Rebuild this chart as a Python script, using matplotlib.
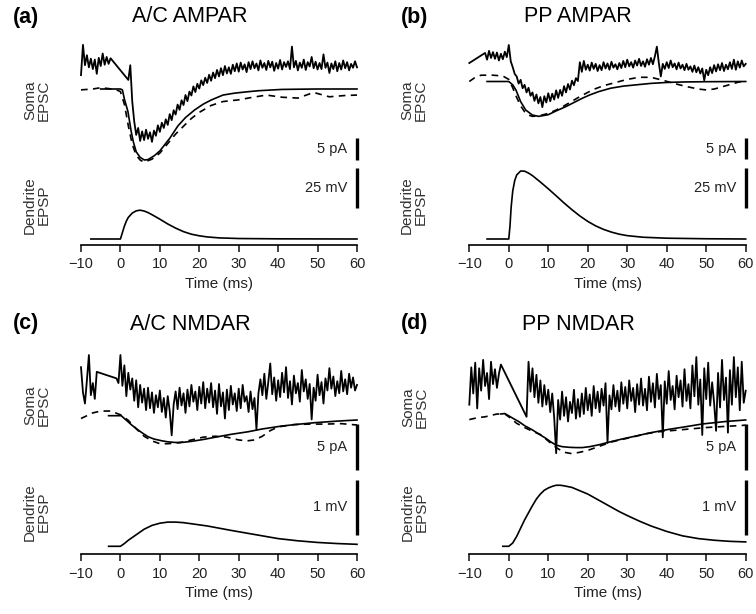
import numpy as np
import matplotlib.pyplot as plt

plt.rcParams['font.family'] = ['Liberation Sans', 'DejaVu Sans']

W, H = 756, 614

# ---- values ----
# soma traces in pA (fit baseline = 0), dendrite traces in mV (rest = 0), time in ms
# recorded soma EPSC is split in two pieces; the gap is bridged by a straight line

# (a) A/C AMPAR
a_rec_pre_span = (-10.0, -2.5)
a_rec_pre = [3.2, 10.2, 5.5, 7.8, 5.0, 7.0, 4.6, 6.8, 3.5, 7.2, 5.3, 8.2, 5.6, 7.4, 5.8, 7.1]
a_rec_post_span = (2.0, 60.0)
a_rec_post = [2.1, 5.5, -2.9, -7.5, -10.6, -9.0, -12.0, -9.8, -11.8, -9.4, -11.5, -10.0, -12.2, -9.6, -10.8, -8.4,
              -9.9, -7.8, -9.0, -7.0, -8.3, -5.8, -7.2, -4.9, -5.9, -3.6, -4.8, -2.6, -3.7, -1.4, -2.8, -0.6,
              -1.5, 0.6, -0.7, 1.2, 0.1, 2.0, 0.9, 2.6, 1.4, 3.3, 1.9, 3.8, 2.5, 4.4, 2.9, 4.8,
              3.2, 5.3, 3.6, 5.0, 3.5, 5.6, 4.1, 5.9, 4.0, 6.1, 4.5, 5.7, 3.9, 6.2, 4.6, 6.4,
              4.8, 5.9, 4.3, 6.6, 4.9, 6.0, 4.4, 6.5, 5.0, 6.3, 4.2, 6.0, 4.7, 6.7, 4.5, 6.2,
              5.1, 6.4, 4.6, 9.8, 5.0, 6.5, 4.3, 6.1, 4.9, 6.8, 4.4, 6.2, 5.2, 7.4, 4.8, 6.3,
              4.5, 6.0, 4.6, 8.0, 4.9, 6.1, 3.7, 5.9, 4.6, 6.4, 4.1, 6.0, 4.5, 6.6, 4.8, 6.2,
              4.3, 5.8, 4.9, 6.4, 5.0]
a_fit_t = [-5, 0, 0.5, 1, 1.9, 2.75, 3.3, 4, 5, 6.1, 7, 8.6, 10, 11.2, 12.5, 14.6, 16.5, 18.8, 21, 23,
           26, 29, 32.4, 35, 40.9, 45, 50, 60]
a_fit = [0, 0, -0.2, -2.3, -5.2, -9.9, -12.3, -14.5, -15.8, -16.4, -16.3, -15.4, -14.3, -12.9, -11.4, -8.5,
         -6.6, -4.85, -3.5, -2.55, -1.4, -0.95, -0.62, -0.4, -0.1, -0.05, 0, 0]
a_alt_t = [-10, -7, -5, -3, -1, 0, 1, 2, 3, 4, 5, 6, 8, 10, 12, 14, 16, 18, 20, 23, 26, 30, 33, 37, 41,
           45, 49, 53, 57, 60]
a_alt = [-0.2, 0, 0.3, 0.1, -0.2, -0.6, -3.5, -8.5, -12.8, -15.3, -16.4, -16.9, -16.2, -14.8, -12.6, -10.4,
         -8.6, -6.8, -5.4, -3.8, -2.9, -2.5, -2.0, -1.4, -1.9, -2.1, -0.8, -1.8, -1.5, -1.4]
a_epsp_t = [-7.5, 0, 0.5, 1, 1.5, 2, 3, 4, 5, 6, 7, 8, 10, 12, 14, 16, 18, 20, 22, 25, 30, 40, 60]
a_epsp = [0, 0, 4.0, 8.0, 11.2, 13.5, 16.2, 17.6, 18.0, 17.5, 16.5, 15.2, 12.4, 9.4, 6.8, 4.6, 3.0, 2.0,
          1.3, 0.7, 0.3, 0.1, 0]

# (b) PP AMPAR
b_rec_pre_span = (-10.0, -10.0)
b_rec_pre = [4.4]
b_rec_post_span = (-6.0, 60.0)
b_rec_post = [6.8, 5.2, 7.3, 5.6, 7.0, 5.4, 6.9, 5.0, 6.6, 5.3, 7.1, 5.8, 8.7, 4.8, 3.4, 1.8,
              1.2, -0.5, 0.4, -1.6, -0.8, -2.6, -1.5, -3.4, -2.6, -4.6, -3.1, -5.2, -3.7, -6.1, -3.5, -5.0,
              -2.8, -4.7, -2.9, -4.3, -2.1, -3.9, -2.0, -3.4, -1.1, -2.6, -0.6, -1.9, 0.2, -0.9, 0.8, 0.1,
              4.6, 2.3, 4.9, 2.8, 4.0, 2.6, 4.5, 3.0, 4.2, 2.5, 3.9, 2.7, 4.6, 3.1, 4.3, 2.8,
              4.7, 3.3, 4.1, 2.9, 4.4, 3.2, 4.9, 3.4, 5.2, 3.6, 4.6, 3.3, 5.0, 3.8, 5.4, 3.7,
              4.8, 3.5, 5.3, 4.0, 5.6, 4.1, 6.0, 8.3, 4.4, 1.2, 4.2, 3.0, 4.6, 3.2, 5.0, 3.4,
              4.3, 2.9, 4.5, 3.1, 4.0, 2.7, 4.2, 2.8, 3.6, 2.3, 3.8, 2.2, 3.4, 1.9, 3.1, 0.3,
              2.8, 1.5, 3.4, 2.0, 3.9, 2.4, 4.1, 2.7, 4.4, 2.5, 4.0, 2.9, 4.6, 3.0, 5.2, 2.8,
              4.8, 3.3, 5.0, 3.6, 4.2]
b_fit_t = [-5.5, 0, 1, 1.8, 3, 4.3, 6, 7.6, 10, 12, 14.4, 16.5, 18.6, 20.5, 22.8, 25.8, 29, 32.2, 36,
           40.6, 45, 50, 60]
b_fit = [0, 0, -0.8, -2.0, -4.8, -6.8, -8.0, -8.3, -7.9, -7.0, -6.0, -5.0, -4.0, -3.2, -2.4, -1.6, -1.1,
         -0.8, -0.45, -0.2, -0.1, -0.05, 0]
b_alt_t = [-10, -8.5, -7, -4, -1.5, 0, 1, 2, 3, 4, 5, 6, 8, 10, 12, 14, 16, 18, 20, 22, 24, 26, 28, 30,
           33, 36, 39, 42, 45, 48, 50, 52, 55, 58, 60]
b_alt = [0, 1.0, 1.5, 1.5, 1.3, 0.5, -1.5, -3.8, -5.8, -7.2, -8.0, -8.3, -8.1, -7.6, -6.8, -5.8, -4.7,
         -3.6, -2.6, -1.7, -1.0, -0.5, 0, 0.5, 1.0, 1.0, 0.3, -0.5, -1.2, -1.8, -2.0, -1.8, -1.0, -0.2, 0.2]
b_epsp_t = [-5.5, 0, 0.3, 0.6, 1, 1.5, 2, 3, 4, 5, 6, 8, 10, 12, 14, 16, 18, 20, 22, 24, 26, 28, 30, 34,
            40, 50, 60]
b_epsp = [0, 0, 8, 20, 30, 36.5, 40, 42.5, 42.4, 41.2, 39.6, 35.6, 31.4, 27, 22.5, 18.3, 14.4, 11.0, 8.2,
          6.0, 4.3, 3.0, 2.1, 1.1, 0.5, 0.15, 0]

# (c) A/C NMDAR
c_rec_pre_span = (-10.0, -6.0)
c_rec_pre = [5.2, 2.5, 1.3, 3.8, 6.5, 2.2, 3.5, 1.8, 4.7]
c_rec_post_span = (-1.0, 60.0)
c_rec_post = [4.0, 3.5, 6.5, 3.2, 5.4, 2.1, 4.6, 2.8, 4.0, 1.6, 3.8, 0.9, 3.3, 1.4, 2.9, 0.6,
              3.0, 0.8, 2.5, 0.3, 2.2, 0.9, 2.7, 0.4, 1.9, -0.2, 2.1, 0.5, -2.1, 1.2, 2.6, 0.7,
              3.0, 1.1, 2.4, 0.3, 2.8, 1.0, 3.3, 1.5, 2.6, 0.6, 3.1, 1.3, 3.6, 0.8, 2.9, 1.4,
              3.5, 0.9, 2.7, 0.2, 3.4, 1.0, 2.5, -0.3, 2.8, 0.6, 3.2, 1.2, 2.4, 0.5, 2.9, 0.8,
              3.3, 1.5, 2.1, 0.4, 2.6, 0.7, 1.9, -1.5, 2.4, 3.9, 2.2, 4.5, 1.8, 3.6, 5.6, 2.3,
              4.1, 1.6, 3.8, 2.0, 4.6, 2.5, 5.2, 1.9, 3.7, 1.2, 4.3, 2.4, 3.5, 1.5, 4.9, 2.6,
              3.9, 1.8, 3.4, -0.4, 3.0, 1.6, 4.4, 2.2, 3.6, 1.3, 4.0, 2.7, 5.1, 2.9, 4.2, 2.1,
              3.7, 2.4, 4.8, 2.6, 3.9, 2.3, 4.5, 3.0, 4.1, 2.7, 3.3]
c_fit_t = [-3, 0.2, 1.9, 3, 4.5, 6, 7, 8.5, 10.4, 12, 14, 16, 18, 21, 24, 28, 32.4, 36, 40.9, 45, 49.3,
           55, 60]
c_fit = [0, 0, -0.64, -1.05, -1.54, -1.98, -2.25, -2.5, -2.68, -2.8, -2.87, -2.85, -2.75, -2.55, -2.31,
         -2.0, -1.72, -1.42, -1.11, -0.92, -0.75, -0.58, -0.46]
c_alt_t = [-10, -7, -5, -2.5, 0, 2, 4, 6, 8, 10, 12, 15, 18, 21, 24, 27, 30, 32, 34, 36, 38, 40, 44, 48,
           52, 56, 60]
c_alt = [-0.3, 0.3, 0.5, 0.5, 0.1, -0.5, -1.4, -2.2, -2.7, -3.0, -3.0, -2.9, -2.6, -2.3, -2.2, -2.3, -2.6,
         -2.7, -2.6, -2.2, -1.6, -1.2, -0.95, -0.9, -0.9, -0.85, -1.0]
c_epsp_t = [-3, 0, 1, 2, 3, 4, 6, 8, 10, 12, 14, 16, 18, 20, 22, 25, 28, 32, 36, 40, 45, 50, 55, 60]
c_epsp = [0, 0, 0.05, 0.11, 0.16, 0.21, 0.31, 0.38, 0.42, 0.44, 0.44, 0.43, 0.41, 0.39, 0.37, 0.33, 0.29,
          0.24, 0.19, 0.14, 0.10, 0.07, 0.05, 0.036]

# (d) PP NMDAR
d_rec_pre_span = (-10.0, -2.0)
d_rec_pre = [1.0, 5.0, 2.2, 5.5, 0.6, 4.9, 2.5, 5.8, 3.0, 4.4, 1.6, 5.6, 3.2, 4.8, 2.8, 4.3, 5.3]
d_rec_post_span = (4.5, 60.0)
d_rec_post = [-0.3, 5.6, 2.4, 4.9, 1.8, 4.2, 1.2, 3.6, 0.8, 3.1, 1.0, 2.6, 0.2, 2.2, -0.4, -4.2,
              1.5, -0.6, 2.4, -0.2, 1.8, -0.8, 1.3, 0.1, 2.6, -0.5, 1.6, -0.3, 2.2, 0.0, 2.8, 0.4,
              2.1, -0.2, 3.0, 0.6, 2.4, 0.2, 2.7, 0.9, 3.3, -3.1, 2.0, 0.5, 3.1, 0.8, 2.5, 0.3,
              3.4, 1.1, 2.9, 0.6, 3.6, 1.4, 2.8, 0.2, 3.2, 1.0, 3.8, 0.9, 2.7, 0.4, 4.0, 1.3,
              3.3, 0.7, 4.3, 1.6, 3.1, -2.5, 3.5, 1.1, 4.6, 1.5, 3.0, 0.5, 4.1, 1.8, 3.6, 0.8,
              4.8, 1.4, 3.2, 0.6, 5.2, 1.9, 6.1, 1.0, 3.7, -2.25, 4.9, 1.6, 5.5, 0.9, 3.4, 1.2,
              -1.8, 4.4, 0.7, 5.8, 1.5, 3.9, -2.0, 4.7, 1.0, 6.1, 1.8, 5.0, 0.4, 5.6, 1.2, 2.5]
d_fit_t = [-2, -1, 0, 1, 2.6, 4, 6, 8, 9.4, 10.5, 11.9, 13.5, 15.3, 17, 18.6, 20.5, 22.8, 26, 29, 32.2,
           36, 40.6, 45, 49, 55, 60]
d_fit = [0, 0.05, -0.2, -0.45, -0.83, -1.25, -1.71, -2.25, -2.61, -2.95, -3.32, -3.5, -3.57, -3.6, -3.6,
         -3.5, -3.3, -2.95, -2.65, -2.36, -2.0, -1.64, -1.35, -1.07, -0.8, -0.64]
d_alt_t = [-10, -8, -6, -3, -1, 0, 2, 4, 6, 8, 10, 12, 14, 16, 18, 20, 22, 24, 26, 28, 30, 32, 35, 38,
           42, 46, 50, 54, 58, 60]
d_alt = [-0.6, -0.4, -0.3, 0, 0, -0.3, -1.0, -1.45, -1.85, -2.2, -2.9, -3.6, -4.1, -4.25, -4.1, -3.9,
         -3.6, -3.3, -3.0, -2.8, -2.6, -2.4, -2.1, -1.9, -1.75, -1.6, -1.45, -1.35, -1.25, -1.2]
d_epsp_t = [-1.5, 0, 1, 2, 3, 4, 5, 6, 7, 8, 9, 10, 11, 12, 13, 14, 16, 18, 20, 22, 24, 26, 28, 30, 33,
            36, 40, 44, 48, 52, 56, 60]
d_epsp = [0, 0, 0.06, 0.18, 0.33, 0.48, 0.61, 0.74, 0.86, 0.95, 1.02, 1.06, 1.09, 1.11, 1.11, 1.10,
          1.07, 1.01, 0.95, 0.87, 0.79, 0.71, 0.63, 0.56, 0.46, 0.37, 0.27, 0.19, 0.14, 0.11, 0.09, 0.08]

# scale bar sizes
amp_bar = (5, 25)     # pA, mV for AMPAR panels
nmda_bar = (5, 1)     # pA, mV for NMDAR panels


# ---- layout (pixels of the 756x614 canvas) ----
panels = [
    dict(tag="(a)", title="A/C AMPAR", x0=81, x1=357, top=30, axis=245, head=17,
         soma0=89, soma_ppu=4.33, dend0=239, dend_ppu=1.6,
         soma_bar_bottom=160, dend_bar_bottom=208, bars=amp_bar, ylab_x=37, soma_y=100, dend_y=205,
         data=(a_rec_pre_span, a_rec_pre, a_rec_post_span, a_rec_post, a_fit_t, a_fit, a_alt_t, a_alt,
               a_epsp_t, a_epsp)),
    dict(tag="(b)", title="PP AMPAR", x0=469.3, x1=745.7, top=30, axis=245, head=17,
         soma0=81.5, soma_ppu=4.2, dend0=239, dend_ppu=1.6,
         soma_bar_bottom=159, dend_bar_bottom=208, bars=amp_bar, ylab_x=414, soma_y=100, dend_y=205,
         data=(b_rec_pre_span, b_rec_pre, b_rec_post_span, b_rec_post, b_fit_t, b_fit, b_alt_t, b_alt,
               b_epsp_t, b_epsp)),
    dict(tag="(c)", title="A/C NMDAR", x0=81, x1=357, top=340, axis=554, head=324,
         soma0=415.7, soma_ppu=9.33, dend0=546.3, dend_ppu=55,
         soma_bar_bottom=470.3, dend_bar_bottom=534.7, bars=nmda_bar, ylab_x=37, soma_y=405, dend_y=512,
         data=(c_rec_pre_span, c_rec_pre, c_rec_post_span, c_rec_post, c_fit_t, c_fit, c_alt_t, c_alt,
               c_epsp_t, c_epsp)),
    dict(tag="(d)", title="PP NMDAR", x0=469.3, x1=745.7, top=340, axis=554, head=324,
         soma0=414, soma_ppu=9.33, dend0=546.3, dend_ppu=55,
         soma_bar_bottom=470.3, dend_bar_bottom=534.7, bars=nmda_bar, ylab_x=415, soma_y=407, dend_y=512,
         data=(d_rec_pre_span, d_rec_pre, d_rec_post_span, d_rec_post, d_fit_t, d_fit, d_alt_t, d_alt,
               d_epsp_t, d_epsp)),
]

LW = 1.2
INK = "black"


def overlay_axes(fig, p):
    rect = [p["x0"] / W, 1 - p["axis"] / H, (p["x1"] - p["x0"]) / W, (p["axis"] - p["top"]) / H]
    ax = fig.add_axes(rect)
    ax.set_xlim(-10, 60)
    ax.patch.set_alpha(0)
    for s in ["top", "right", "left", "bottom"]:
        ax.spines[s].set_visible(False)
    ax.set_yticks([])
    return ax


def ylims(zero, ppu, top, axis):
    # value v sits at pixel row zero - v*ppu
    return (zero - axis) / ppu, (zero - top) / ppu


def draw_panel(fig, p):
    pre_span, pre, post_span, post, fit_t, fit, alt_t, alt, epsp_t, epsp = p["data"]
    soma_unit, dend_unit = p["bars"]

    soma = overlay_axes(fig, p)
    soma.set_ylim(*ylims(p["soma0"], p["soma_ppu"], p["top"], p["axis"]))
    soma.set_xticks([])

    dend = overlay_axes(fig, p)
    dend.set_ylim(*ylims(p["dend0"], p["dend_ppu"], p["top"], p["axis"]))

    # recorded trace (pre piece + straight bridge + post piece)
    t_rec = np.concatenate([np.linspace(*pre_span, len(pre)), np.linspace(*post_span, len(post))])
    soma.plot(t_rec, pre + post, color=INK, lw=1.3, clip_on=False)
    soma.plot(fit_t, fit, color=INK, lw=LW, clip_on=False)
    soma.plot(alt_t, alt, color=INK, lw=LW, linestyle=(0, (4, 3.2)), clip_on=False)

    dend.plot(epsp_t, epsp, color=INK, lw=LW, clip_on=False)

    # bottom time axis
    dend.spines["bottom"].set_visible(True)
    dend.spines["bottom"].set_linewidth(LW)
    dend.set_xticks(np.arange(-10, 61, 10))
    dend.tick_params(axis="x", length=5, width=LW, pad=4, labelsize=10.5, colors="#222222")
    dend.set_xlabel("Time (ms)", fontsize=11, labelpad=4, color="#222222")

    # scale bars at the right edge
    sb0 = (p["soma0"] - p["soma_bar_bottom"]) / p["soma_ppu"]
    soma.plot([60, 60], [sb0, sb0 + soma_unit], color=INK, lw=2.4, solid_capstyle="butt", clip_on=False)
    soma.annotate(f"{soma_unit} pA", xy=(60, sb0 + soma_unit / 2), xytext=(-7, 0),
                  textcoords="offset points", ha="right", va="center", fontsize=10.5, color="#222222")
    db0 = (p["dend0"] - p["dend_bar_bottom"]) / p["dend_ppu"]
    dend.plot([60, 60], [db0, db0 + dend_unit], color=INK, lw=2.4, solid_capstyle="butt", clip_on=False)
    dend.annotate(f"{dend_unit} mV", xy=(60, db0 + dend_unit / 2), xytext=(-7, 0),
                  textcoords="offset points", ha="right", va="center", fontsize=10.5, color="#222222")

    # headings and row labels
    fig.text((p["x0"] - 68) / W, 1 - p["head"] / H, p["tag"], fontsize=15.5, fontweight="bold",
             ha="left", va="center")
    fig.text((p["x0"] + 109) / W, 1 - p["head"] / H, p["title"], fontsize=15.5, ha="center", va="center")
    fig.text(p["ylab_x"] / W, 1 - p["soma_y"] / H, "Soma\nEPSC", rotation=90, fontsize=11,
             ha="center", va="center", color="#333333", linespacing=1.0)
    fig.text(p["ylab_x"] / W, 1 - p["dend_y"] / H, "Dendrite\nEPSP", rotation=90, fontsize=11,
             ha="center", va="center", color="#333333", linespacing=1.0)


def main():
    fig = plt.figure(figsize=(W / 100, H / 100), dpi=100)
    for p in panels:
        draw_panel(fig, p)
    fig.savefig("out.png", dpi=100)


if __name__ == "__main__":
    main()
